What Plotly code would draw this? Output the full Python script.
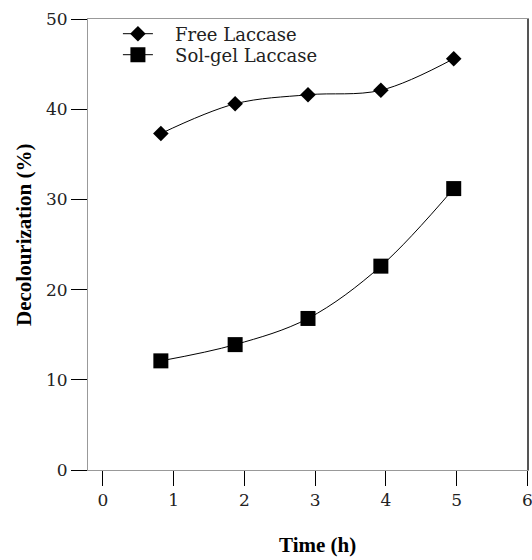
import plotly.graph_objects as go

# Data
time_free = [0.82, 1.87, 2.90, 3.93, 4.96]
free_laccase = [37.3, 40.6, 41.6, 42.1, 45.6]
time_solgel = [0.82, 1.87, 2.90, 3.93, 4.96]
solgel_laccase = [12.1, 13.9, 16.8, 22.6, 31.2]
x_ticks = [0, 1, 2, 3, 4, 5, 6]
y_ticks = [0, 10, 20, 30, 40, 50]
series_names = ["\u00a0\u00a0\u00a0Free Laccase", "\u00a0\u00a0\u00a0Sol-gel Laccase"]

tick_font = dict(family="DejaVu Serif", size=17, color="#222")
title_font = dict(family="Liberation Serif", size=21, color="black")
legend_font = dict(family="DejaVu Serif", size=18, color="#222")

fig = go.Figure()
fig.add_trace(go.Scatter(
    x=time_free, y=free_laccase, name=series_names[0], legend="legend",
    mode="lines+markers", line=dict(color="black", width=1, shape="spline"),
    marker=dict(symbol="diamond", size=12, color="black"),
))
fig.add_trace(go.Scatter(
    x=time_solgel, y=solgel_laccase, name=series_names[1], legend="legend2",
    mode="lines+markers", line=dict(color="black", width=1, shape="spline"),
    marker=dict(symbol="square", size=15, color="black"),
))

fig.update_layout(
    width=532, height=560,
    margin=dict(l=88, r=4, t=19, b=90, autoexpand=False),
    paper_bgcolor="white", plot_bgcolor="white",
    showlegend=True,
    legend=dict(x=0.068, y=(470 - 34) / 451, xanchor="left", yanchor="middle",
                font=legend_font, bgcolor="rgba(0,0,0,0)", itemwidth=30),
    legend2=dict(x=0.068, y=(470 - 55) / 451, xanchor="left", yanchor="middle",
                 font=legend_font, bgcolor="rgba(0,0,0,0)", itemwidth=30),
    xaxis=dict(range=[-0.21, 6.01], tickvals=x_ticks, ticktext=[str(v) for v in x_ticks],
               ticks="outside", ticklen=15, tickwidth=1, tickcolor="black",
               showline=True, linecolor="#999", linewidth=1, mirror=True,
               showgrid=False, zeroline=False, tickfont=tick_font, automargin=False,
               ticklabeloverflow="allow"),
    yaxis=dict(range=[0, 50], tickvals=y_ticks,
               ticks="outside", ticklen=16, tickwidth=1, tickcolor="black",
               showline=True, linecolor="#999", linewidth=1, mirror=True,
               showgrid=False, zeroline=False, tickfont=tick_font, automargin=False),
)
fig.add_annotation(text="<b>Time (h)</b>", xref="paper", yref="paper",
                   x=(317 - 88) / 440, y=-(545 - 470) / 451, showarrow=False,
                   font=title_font, xanchor="center", yanchor="middle")
fig.add_annotation(text="<b>Decolourization (%)</b>", xref="paper", yref="paper",
                   x=-(88 - 24) / 440, y=(470 - 235) / 451, showarrow=False, textangle=-90,
                   font=title_font, xanchor="center", yanchor="middle")
# darker right border as in reference
fig.add_shape(type="line", xref="paper", yref="paper", x0=1, x1=1, y0=0, y1=1,
              line=dict(color="#555", width=2))

fig.write_html("out.html", config={"displayModeBar": False},
               post_script="document.body.style.margin='0';document.body.style.overflow='hidden';")
